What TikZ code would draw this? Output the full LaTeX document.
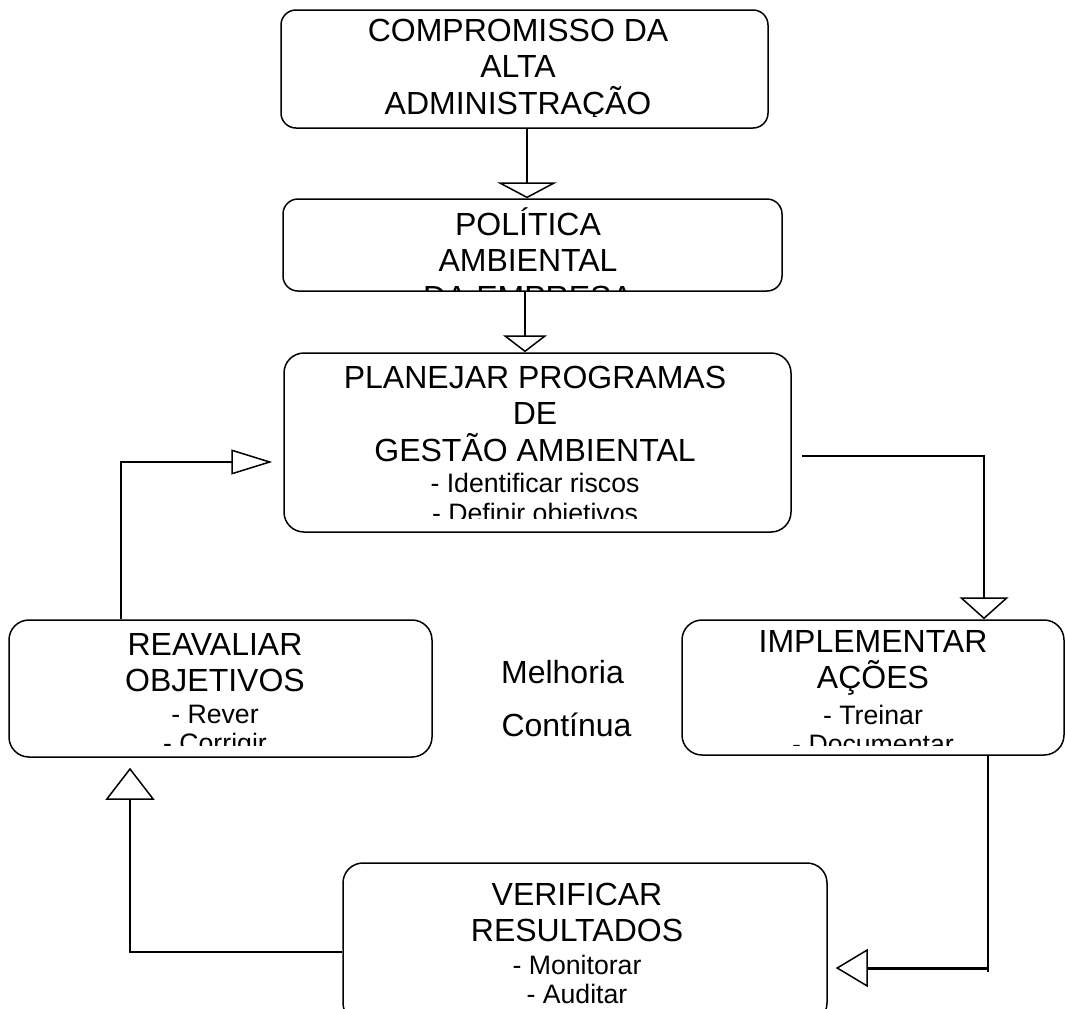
\documentclass[tikz,border=0pt]{standalone}
\usepackage{fontspec}
\setmainfont{Liberation Sans}
\usetikzlibrary{arrows.meta}

\newdimen\px \px=0.75pt
\newcommand{\grande}{\fontsize{24pt}{27.4pt}\selectfont}
\newcommand{\pequena}{\fontsize{20pt}{22.5pt}\selectfont}
\newcommand{\topo}{\rule{0pt}{30\px}}

\tikzset{
    etapa/.style={draw, line width=1.5\px, rounded corners=20\px, inner sep=0pt},
    texto/.style={font=\grande, align=center, inner sep=0pt, anchor=north},
    linha/.style={line width=1.5\px},
    seta/.style 2 args={linha, -{Triangle[open, length=#1, width=#2, line width=1.125pt]}}
  }

\begin{document}
\begin{tikzpicture}[x=0.75pt, y=-0.75pt]
    \useasboundingbox (0,0) rectangle (1065,1008);

    % caixas
    \node[etapa, rounded corners=15\px, minimum width=487\px, minimum height=118\px] (compromisso) at (524.5,69) {};
    \node[etapa, rounded corners=15\px, minimum width=499\px, minimum height=92\px] (politica) at (532.5,245) {};
    \node[etapa, minimum width=507\px, minimum height=179\px] (planejar) at (537.5,442.5) {};
    \node[etapa, minimum width=423\px, minimum height=137\px] (reavaliar) at (220.5,688.5) {};
    \node[etapa, minimum width=382\px, minimum height=135\px] (implementar) at (873,687.5) {};
    \node[etapa, minimum width=484\px, minimum height=160\px] (verificar) at (585,943) {};

    % textos (cortados pela caixa)
    \begin{scope}
      \clip[rounded corners=15\px] (compromisso.north west) rectangle ([yshift=12\px]compromisso.south east);
      \node[texto] (t-compromisso) at (518,11) {\topo COMPROMISSO DA\\ALTA\\ADMINISTRAÇÃO};
    \end{scope}
    \begin{scope}
      \clip[rounded corners=15\px] (politica.north west) rectangle ([yshift=1\px]politica.south east);
      \node[texto] (t-politica) at (528,205) {\topo POLÍTICA\\AMBIENTAL\\DA EMPRESA};
    \end{scope}
    \begin{scope}
      \clip[rounded corners=20\px] (planejar.north west) rectangle ([yshift=14\px]planejar.south east);
      \node[texto] (t-planejar) at (535,358) {\topo PLANEJAR PROGRAMAS\\DE\\GESTÃO AMBIENTAL\\[-5\px]
        {\pequena - Identificar riscos}\\[-7\px]{\pequena - Definir objetivos}};
    \end{scope}
    \begin{scope}
      \clip[rounded corners=20\px] (reavaliar.north west) rectangle ([yshift=12\px]reavaliar.south east);
      \node[texto] (t-reavaliar) at (215,625) {\topo REAVALIAR\\OBJETIVOS\\[-5\px]
        {\pequena - Rever}\\[-7\px]{\pequena - Corrigir}};
    \end{scope}
    \begin{scope}
      \clip[rounded corners=20\px] (implementar.north west) rectangle ([yshift=10\px]implementar.south east);
      \node[texto] (t-implementar) at (873,622) {\topo IMPLEMENTAR\\AÇÕES\\[-1\px]
        {\pequena - Treinar}\\[-7\px]{\pequena - Documentar}};
    \end{scope}
    \begin{scope}
      \clip[rounded corners=20\px] (verificar.north west) rectangle (verificar.south east);
      \node[texto] (t-verificar) at (577,875) {\topo VERIFICAR\\RESULTADOS\\[-4\px]
        {\pequena - Monitorar}\\[-7\px]{\pequena - Auditar}};
    \end{scope}

    \node[font=\grande, inner sep=0pt, anchor=base] (melhoria) at (562.5,683) {Melhoria};
    \node[font=\grande, inner sep=0pt, anchor=base] (continua) at (566.5,736) {Contínua};

    % setas
    \draw[seta={12pt}{45pt}] ([xshift=2.5\px]compromisso.south) -- ([xshift=2.5\px]compromisso.south |- politica.north);
    \draw[seta={12.75pt}{33pt}] ([xshift=-7.5\px]politica.south) -- ([xshift=-7.5\px]politica.south |- planejar.north);
    \draw[seta={16.5pt}{36.75pt}] ([xshift=10\px,yshift=-13.5\px]planejar.east) -| ([xshift=111\px]implementar.north);
    \draw[linha] ([xshift=115\px]implementar.south) -- ([xshift=115\px,yshift=-29\px]implementar.south |- verificar.east);
    \draw[seta={24pt}{28.5pt}, line width=3\px] ([xshift=115\px,yshift=-25\px]implementar.south |- verificar.east)
        -- ([xshift=8\px,yshift=-25\px]verificar.east);
    \draw[seta={24pt}{36.75pt}] ([yshift=-9\px]verificar.west) -| ([xshift=-90.5\px,yshift=-10\px]reavaliar.south);
    \draw[seta={30.75pt}{18.75pt}] ([xshift=-99.5\px]reavaliar.north) |- ([xshift=-11\px,yshift=-19.5\px]planejar.west);

%    \draw[linha] (reavaliar.north) -- (planejar.west);

\end{tikzpicture}
\end{document}
